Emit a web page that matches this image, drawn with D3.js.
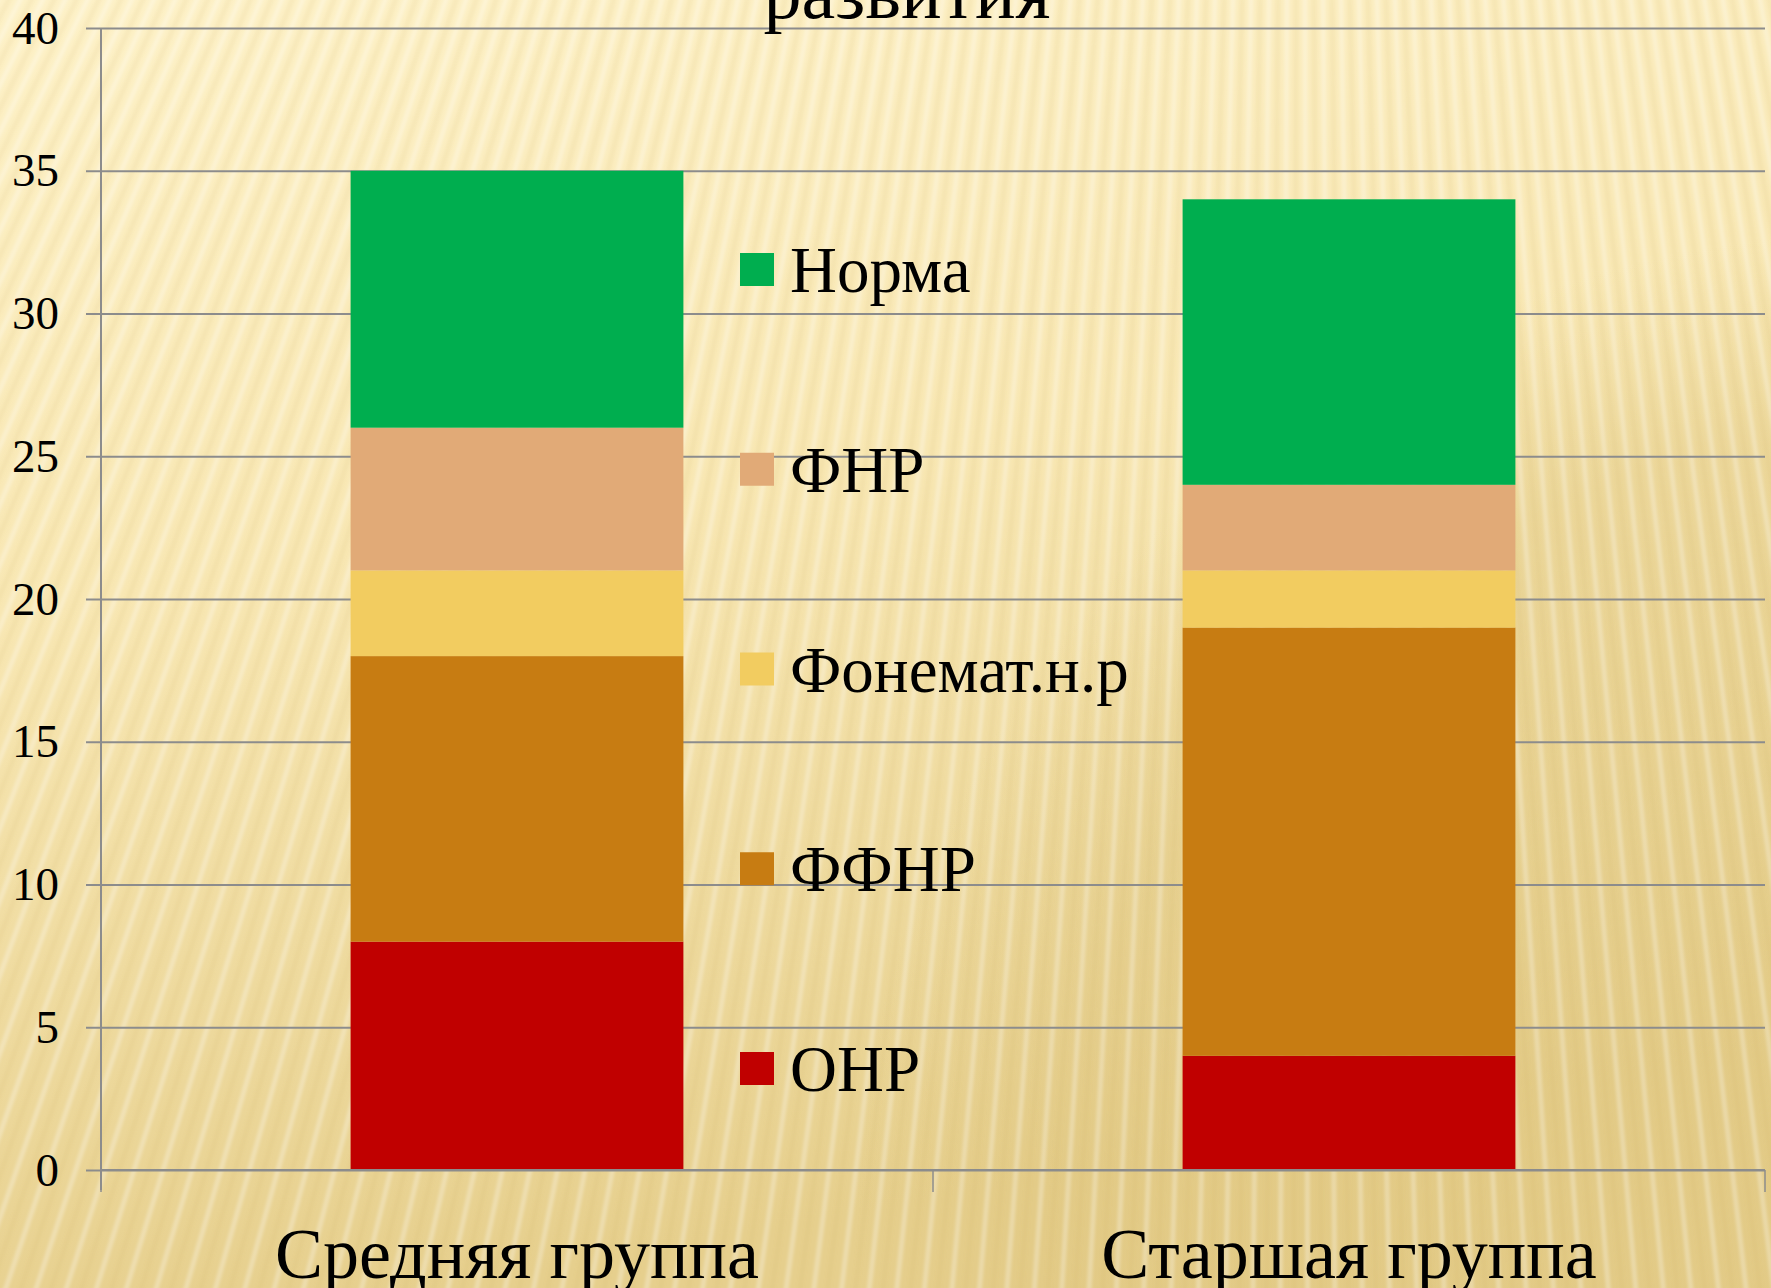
<!DOCTYPE html>
<html>
<head>
<meta charset="utf-8">
<script src="https://cdn.jsdelivr.net/npm/d3@7"></script>
<style>
  html, body { margin: 0; padding: 0; overflow: hidden; }
  svg { display: block; font-family: "Liberation Serif", "Times New Roman", serif; }
</style>
</head>
<body>
<svg width="1771" height="1288"></svg>
<script>
const categories = ["Средняя группа", "Старшая группа"];
const seriesNames = ["ОНР", "ФФНР", "Фонемат.н.р", "ФНР", "Норма"];
const seriesColors = ["#c00000", "#c77c12", "#f2cc60", "#e1aa77", "#00ae4f"];
const onr = [8, 4];
const ffnr = [10, 15];
const fonemat = [3, 2];
const fnr = [5, 3];
const norma = [9, 10];
const yTicks = [0, 5, 10, 15, 20, 25, 30, 35, 40];
const titleTail = "развития";

const W = 1771, H = 1288;
const plot = {left: 101, right: 1765, top: 28, bottom: 1170};

const svg = d3.select("svg");
const defs = svg.append("defs");

// slide background: cream gradient with fanned stripes
const bg = defs.append("linearGradient").attr("id", "bg")
  .attr("x1", 0).attr("y1", 0).attr("x2", 0.25).attr("y2", 1);
bg.append("stop").attr("offset", 0).attr("stop-color", "#fdf1c7");
bg.append("stop").attr("offset", 0.45).attr("stop-color", "#f8e7b3");
bg.append("stop").attr("offset", 1).attr("stop-color", "#e6cf8d");
svg.append("rect").attr("width", W).attr("height", H).attr("fill", "url(#bg)");

const glow = defs.append("radialGradient").attr("id", "shade")
  .attr("cx", 0.5).attr("cy", 0.5).attr("r", 0.5);
glow.append("stop").attr("offset", 0.8).attr("stop-color", "#dcc27a").attr("stop-opacity", 0.35);
glow.append("stop").attr("offset", 1).attr("stop-color", "#dcc27a").attr("stop-opacity", 0);
svg.append("ellipse").attr("cx", 1900).attr("cy", 1250).attr("rx", 1050).attr("ry", 1020)
  .attr("fill", "url(#shade)");

defs.append("filter").attr("id", "soft")
  .append("feGaussianBlur").attr("stdDeviation", 1.8);
const vp = [1300, -2500];
const stripes = svg.append("g").attr("filter", "url(#soft)");
d3.range(-0.52, 0.2, 0.0036).forEach((a, i) => {
  stripes.append("line")
    .attr("x1", vp[0]).attr("y1", vp[1])
    .attr("x2", vp[0] + Math.sin(a) * 4200).attr("y2", vp[1] + Math.cos(a) * 4200)
    .attr("stroke", i % 2 ? "#ffffff" : "#c9a24a")
    .attr("stroke-opacity", i % 2 ? 0.28 : 0.09)
    .attr("stroke-width", 5);
});

// scales
const x = d3.scaleBand().domain(categories).range([plot.left, plot.right]).padding(0);
const y = d3.scaleLinear().domain([0, 40]).range([plot.bottom, plot.top]);
const barW = x.bandwidth() * 0.4;

// gridlines
svg.append("g").attr("transform", `translate(${plot.left},0)`)
  .call(d3.axisLeft(y).tickValues(yTicks).tickSize(-(plot.right - plot.left)).tickFormat(""))
  .call(g => g.select(".domain").remove())
  .call(g => g.selectAll("line").attr("stroke", "#8c8c8c").attr("stroke-width", 2));

// y axis
svg.append("g").attr("transform", `translate(${plot.left},0)`)
  .call(d3.axisLeft(y).tickValues(yTicks).tickSize(15).tickPadding(27))
  .call(g => g.select(".domain").attr("stroke", "#8c8c8c").attr("stroke-width", 2)
    .attr("d", `M0,${plot.top}V${plot.bottom + 20}`))
  .call(g => g.selectAll("line").attr("stroke", "#8c8c8c").attr("stroke-width", 2))
  .call(g => g.selectAll("text").attr("font-size", 47).attr("fill", "#000")
    .attr("font-family", "Liberation Serif"));

// stacked bars
const rows = categories.map((c, i) => ({cat: c, "ОНР": onr[i], "ФФНР": ffnr[i],
  "Фонемат.н.р": fonemat[i], "ФНР": fnr[i], "Норма": norma[i]}));
const stacked = d3.stack().keys(seriesNames)(rows);
svg.append("g").selectAll("g").data(stacked).join("g")
  .attr("fill", (d, i) => seriesColors[i])
  .selectAll("rect").data(d => d).join("rect")
  .attr("x", d => x(d.data.cat) + (x.bandwidth() - barW) / 2)
  .attr("width", barW)
  .attr("y", d => y(d[1]))
  .attr("height", d => y(d[0]) - y(d[1]));

// x axis
const xTickPos = [plot.left, plot.left + x.step(), plot.right];
const xa = svg.append("g");
xa.append("line").attr("x1", plot.left).attr("x2", plot.right)
  .attr("y1", y(0)).attr("y2", y(0)).attr("stroke", "#8c8c8c").attr("stroke-width", 2);
xa.selectAll(".tk").data(xTickPos).join("line")
  .attr("x1", d => d).attr("x2", d => d).attr("y1", y(0)).attr("y2", y(0) + 22)
  .attr("stroke", "#8c8c8c").attr("stroke-width", 1.5);
xa.selectAll("text").data(categories).join("text")
  .attr("x", d => x(d) + x.bandwidth() / 2).attr("y", 1278)
  .attr("text-anchor", "middle").attr("font-size", 72).attr("fill", "#000")
  .text(d => d);

// legend (top entry = last series)
const legend = svg.append("g").attr("transform", "translate(740,0)");
const legendItems = seriesNames.slice().reverse();
const legendY = d3.scalePoint().domain(legendItems).range([292, 1091]);
legendItems.forEach(name => {
  const i = seriesNames.indexOf(name);
  legend.append("rect").attr("x", 0).attr("y", legendY(name) - 39)
    .attr("width", 34).attr("height", 33).attr("fill", seriesColors[i]);
  legend.append("text").attr("x", 50).attr("y", legendY(name))
    .attr("font-size", 65).attr("fill", "#000").text(name);
});

// title (cut off at the top edge)
svg.append("text").attr("x", 907).attr("y", 18).attr("text-anchor", "middle")
  .attr("font-size", 76).attr("fill", "#000").text(titleTail);
</script>
</body>
</html>
